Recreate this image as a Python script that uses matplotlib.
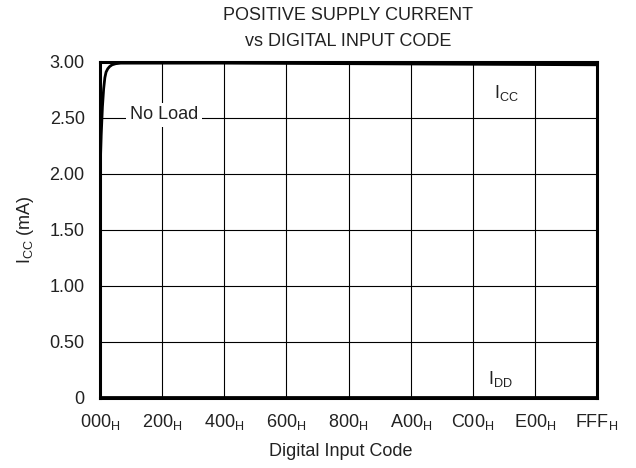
import matplotlib
matplotlib.use("Agg")
import matplotlib.pyplot as plt

plt.rcParams['font.family'] = ['Liberation Sans', 'DejaVu Sans']
plt.rcParams['mathtext.fontset'] = 'custom'
plt.rcParams['mathtext.rm'] = 'Liberation Sans'
plt.rcParams['mathtext.it'] = 'Liberation Sans'

# supply current vs code
codes = [0, 10, 20, 30, 40, 50, 64, 80, 100, 130, 170, 256, 1024, 2048, 3072, 4095]
icc = [2.00, 2.35, 2.60, 2.76, 2.86, 2.91, 2.94, 2.96, 2.975, 2.985, 2.99, 2.99, 2.99, 2.985, 2.98, 2.975]
idd_codes = [0, 4095]
idd = [0.005, 0.005]

xticks = [0, 512, 1024, 1536, 2048, 2560, 3072, 3584, 4095]
xlabels = ['000', '200', '400', '600', '800', 'A00', 'C00', 'E00', 'FFF']
yticks = [0, 0.5, 1.0, 1.5, 2.0, 2.5, 3.0]
ylabels = ['0', '0.50', '1.00', '1.50', '2.00', '2.50', '3.00']

FS = 13
TC = '#222222'

fig = plt.figure(figsize=(6.36, 4.68), dpi=100)
ax = fig.add_axes([100 / 636, 1 - 398 / 468, 497 / 636, 336 / 468])

ax.plot(codes, icc, color='black', lw=2.0, zorder=3)
ax.plot(idd_codes, idd, color='black', lw=2.0, zorder=3)

ax.set_xlim(0, 4095)
ax.set_ylim(0, 3.0)
ax.set_xticks(xticks)
ax.set_xticklabels([r'$\mathregular{%s_H}$' % s for s in xlabels])
ax.set_yticks(yticks)
ax.set_yticklabels(ylabels)
ax.tick_params(length=0, labelsize=FS, colors=TC)
ax.tick_params(axis='x', pad=10)
ax.tick_params(axis='y', pad=11)
ax.grid(True, color='black', lw=0.8)
ax.set_axisbelow(True)
for sp in ax.spines.values():
    sp.set_linewidth(2.2)

ax.set_ylabel(r'$\mathregular{I_{CC}}$ (mA)', fontsize=FS, color=TC)
ax.yaxis.set_label_coords(-64 / 497, 0.5)
fig.text(341 / 636, 1 - 451 / 468, 'Digital Input Code', ha='center', va='center',
         fontsize=FS, color=TC)
fig.text(348 / 636, 1 - 16 / 468, 'POSITIVE SUPPLY CURRENT', ha='center', va='center',
         fontsize=FS, color=TC)
fig.text(348 / 636, 1 - 41 / 468, 'vs DIGITAL INPUT CODE', ha='center', va='center',
         fontsize=FS, color=TC)

ax.text(527, 2.53, 'No Load', ha='center', va='center', fontsize=FS, color=TC,
        bbox=dict(facecolor='white', edgecolor='none', pad=2.5), zorder=4)
ax.text(3345, 2.72, r'$\mathregular{I_{CC}}$', ha='center', va='center', fontsize=FS,
        color=TC)
ax.text(3300, 0.17, r'$\mathregular{I_{DD}}$', ha='center', va='center', fontsize=FS,
        color=TC)

fig.savefig('out.png', dpi=100)
